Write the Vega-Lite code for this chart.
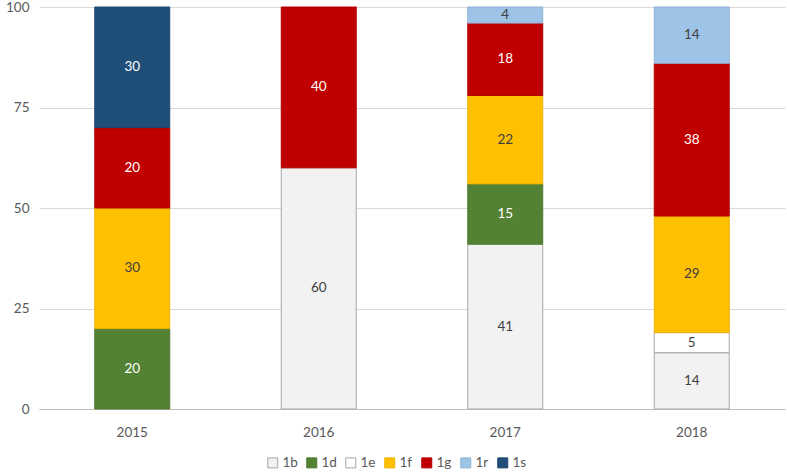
{
  "$schema": "https://vega.github.io/schema/vega-lite/v6.json",
  "width": 746,
  "height": 402,
  "autosize": "none",
  "padding": {"left": 39, "top": 7, "right": 2, "bottom": 67},
  "background": "white",
  "config": {
    "view": {"stroke": null},
    "font": "Lato",
    "axis": {"labelFont": "Lato", "labelFontSize": 13.5, "labelColor": "#595959", "ticks": false, "title": null},
    "legend": {"labelFont": "Lato", "labelFontSize": 13.5, "labelColor": "#595959"}
  },
  "data": {
    "values": [
      {"year": "2015", "cat": "1d", "value": 20},
      {"year": "2015", "cat": "1f", "value": 30},
      {"year": "2015", "cat": "1g", "value": 20},
      {"year": "2015", "cat": "1s", "value": 30},
      {"year": "2016", "cat": "1b", "value": 60},
      {"year": "2016", "cat": "1g", "value": 40},
      {"year": "2017", "cat": "1b", "value": 41},
      {"year": "2017", "cat": "1d", "value": 15},
      {"year": "2017", "cat": "1f", "value": 22},
      {"year": "2017", "cat": "1g", "value": 18},
      {"year": "2017", "cat": "1r", "value": 4},
      {"year": "2018", "cat": "1b", "value": 14},
      {"year": "2018", "cat": "1e", "value": 5},
      {"year": "2018", "cat": "1f", "value": 29},
      {"year": "2018", "cat": "1g", "value": 38},
      {"year": "2018", "cat": "1r", "value": 14}
    ]
  },
  "transform": [
    {"stack": "value", "groupby": ["year"], "sort": [{"field": "cat", "order": "ascending"}], "as": ["v0", "v1"]},
    {"calculate": "(datum.v0 + datum.v1) / 2", "as": "vmid"}
  ],
  "encoding": {
    "x": {
      "field": "year", "type": "nominal",
      "scale": {"paddingInner": 0.598, "paddingOuter": 0.299},
      "axis": {"labelAngle": 0, "labelPadding": 16, "domainColor": "#BFBFBF", "grid": false}
    }
  },
  "layer": [
    {
      "mark": {"type": "bar", "strokeWidth": 1},
      "encoding": {
        "y": {
          "field": "v0", "type": "quantitative",
          "scale": {"domain": [0, 100], "nice": false},
          "axis": {"values": [0, 25, 50, 75, 100], "domain": false, "gridColor": "#D9D9D9", "labelPadding": 10}
        },
        "y2": {"field": "v1"},
        "color": {
          "field": "cat", "type": "nominal",
          "scale": {
            "domain": ["1b", "1d", "1e", "1f", "1g", "1r", "1s"],
            "range": ["#F2F2F2", "#548235", "#FFFFFF", "#FFC000", "#C00000", "#9DC3E6", "#1F4E79"]
          },
          "legend": {
            "title": null, "orient": "none", "direction": "horizontal",
            "legendX": 227, "legendY": 449, "columns": 7,
            "symbolType": "square", "symbolSize": 100, "symbolStrokeWidth": 1,
            "symbolStrokeColor": "#A6A6A6",
            "labelOffset": 3, "columnPadding": 6
          }
        },
        "stroke": {
          "field": "cat", "type": "nominal",
          "scale": {
            "domain": ["1b", "1d", "1e", "1f", "1g", "1r", "1s"],
            "range": ["#A6A6A6", "#4E7A31", "#A6A6A6", "#EDB300", "#B00000", "#8FB3D6", "#1C466D"]
          },
          "legend": null
        }
      }
    },
    {
      "mark": {"type": "text", "fontSize": 13.5, "font": "Lato"},
      "encoding": {
        "y": {"field": "vmid", "type": "quantitative"},
        "text": {"field": "value", "type": "quantitative"},
        "color": {
          "condition": {"test": "indexof(['1d','1g','1s'], datum.cat) >= 0", "value": "#FFFFFF"},
          "value": "#404040"
        }
      }
    }
  ]
}
